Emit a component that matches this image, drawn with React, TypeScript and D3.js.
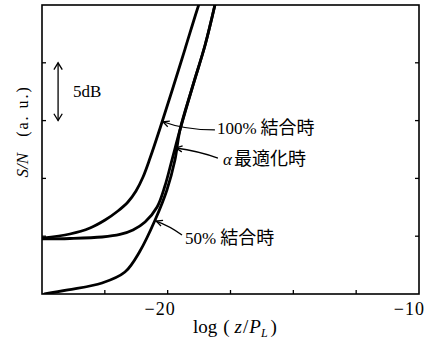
import { useEffect, useRef } from 'react'
import * as d3 from 'd3'

// axes: log(z/P_L) vs S/N in dB (arbitrary origin)
const xDomain = [-25, -10]
const yDomain = [0, 25]
const xTicks = [-22.5, -20, -17.5, -15, -12.5]
const xTickValues = [-20, -10]
const xTickLabels = ['−20', '−10']
const yTicks = [5, 10, 15, 20]

// [log(z/PL), dB]
const coupling100 = [
  [-25, 4.84], [-23.89, 5.19], [-23.09, 5.71], [-22.49, 6.4], [-21.98, 7.18], [-21.58, 7.96],
  [-21.26, 8.91], [-20.98, 10.12], [-20.7, 11.76], [-20.3, 14.36], [-19.83, 17.56], [-19.31, 21.19],
  [-18.83, 24.57], [-18.67, 25.6],
]
const alphaOpt = [
  [-25, 4.76], [-23.89, 4.8], [-22.61, 4.93], [-21.9, 5.15], [-21.38, 5.54], [-20.9, 6.23],
  [-20.42, 7.53], [-20.11, 9.34], [-19.83, 11.59], [-19.51, 14.19], [-18.99, 18.08], [-18.51, 21.54], [-18.12, 25.0],
]
const coupling50 = [
  [-24.9, 0], [-23.97, 0.35], [-22.61, 0.95], [-21.7, 1.9], [-21.1, 3.72], [-20.5, 6.4],
  [-20.03, 9.0], [-19.71, 11.59], [-19.51, 14.19], [-18.99, 18.08], [-18.51, 21.54], [-18.12, 25.0],
]
const seriesList = [coupling100, alphaOpt, coupling50]

// callouts: arrow tip, bend, end of leader, label anchor (data units)
const callouts = [
  { tip: [-20.19, 14.9], ctrl: [-19.31, 14.19], end: [-18.12, 14.19], label: [-18.04, 13.8], pre: '100%', text: '結合時' },
  { tip: [-19.67, 12.63], ctrl: [-18.79, 12.37], end: [-18.0, 11.76], label: [-17.8, 11.2], pre: 'α', text: '最適化時' },
  { tip: [-20.46, 6.31], ctrl: [-19.91, 5.88], end: [-19.43, 5.1], label: [-19.31, 4.3], pre: '50%', text: '結合時' },
]

const SERIF = "'Liberation Serif', 'DejaVu Serif', serif"
const CJK = "'Noto Sans CJK JP', sans-serif"

export default function App() {
  const ref = useRef(null)

  useEffect(() => {
    const svg = d3.select(ref.current)
    svg.selectAll('*').remove()
    const width = 432
    const height = 351
    const margin = { top: 5, right: 13, bottom: 57, left: 42 }

    const x = d3.scaleLinear().domain(xDomain).range([margin.left, width - margin.right])
    const y = d3.scaleLinear().domain(yDomain).range([height - margin.bottom, margin.top])
    const [x0, x1] = x.range()
    const [y0, y1] = y.range()

    const defs = svg.append('defs')
    defs.append('clipPath').attr('id', 'plotClip')
      .append('rect').attr('x', x0).attr('y', y1).attr('width', x1 - x0).attr('height', y0 - y1)

    // frame
    svg.append('rect')
      .attr('x', x0).attr('y', y1).attr('width', x1 - x0).attr('height', y0 - y1)
      .attr('fill', 'none').attr('stroke', '#000').attr('stroke-width', 1.6)

    // inward ticks
    svg.selectAll('line.xtick').data(xTicks).enter().append('line')
      .attr('x1', d => x(d)).attr('x2', d => x(d)).attr('y1', y0).attr('y2', y0 - 4)
      .attr('stroke', '#000').attr('stroke-width', 1.3)
    svg.selectAll('line.ytickL').data(yTicks).enter().append('line')
      .attr('x1', x0).attr('x2', x0 + 4).attr('y1', d => y(d)).attr('y2', d => y(d))
      .attr('stroke', '#000').attr('stroke-width', 1.3)
    svg.selectAll('line.ytickR').data(yTicks).enter().append('line')
      .attr('x1', x1).attr('x2', x1 - 4).attr('y1', d => y(d)).attr('y2', d => y(d))
      .attr('stroke', '#000').attr('stroke-width', 1.3)

    // tick labels
    svg.selectAll('text.xlab').data(xTickValues).enter().append('text')
      .attr('x', d => x(d) + (d === -10 ? 6 : 8)).attr('y', y0 + 21)
      .attr('text-anchor', 'end')
      .attr('font-family', SERIF).attr('font-size', 18).attr('letter-spacing', 1)
      .text((d, i) => xTickLabels[i])

    // x title
    const xt = svg.append('text').attr('x', 193).attr('y', y0 + 39)
      .attr('font-family', SERIF).attr('font-size', 19)
    xt.append('tspan').text('log')
    xt.append('tspan').attr('dx', 6).text('(')
    xt.append('tspan').attr('font-style', 'italic').attr('dx', 5).text('z')
    xt.append('tspan').attr('dx', 1).text('/')
    xt.append('tspan').attr('font-style', 'italic').attr('dx', 1).text('P')
    xt.append('tspan').attr('font-style', 'italic').attr('font-size', 12).attr('dy', 4).text('L')
    xt.append('tspan').attr('dy', -4).attr('dx', 3).text(')')

    // y title
    const yt = svg.append('text').attr('transform', `translate(28,${y(10) - 1}) rotate(-90)`)
      .attr('font-family', SERIF)
    yt.append('tspan').attr('font-style', 'italic').attr('font-size', 17).text('S/N')
    yt.append('tspan').attr('dx', 16).attr('font-size', 16).attr('letter-spacing', 2).text('(a. u.)')

    // curves
    const line = d3.line().x(d => x(d[0])).y(d => y(d[1])).curve(d3.curveCatmullRom.alpha(0.5))
    svg.append('g').attr('clip-path', 'url(#plotClip)')
      .selectAll('path.curve').data(seriesList).enter().append('path')
      .attr('d', d => line(d))
      .attr('fill', 'none').attr('stroke', '#000').attr('stroke-width', 2.8)
      .attr('stroke-linejoin', 'round').attr('stroke-linecap', 'round')

    const arrowHead = (g, tx, ty, fx, fy, len = 7, spread = 0.45) => {
      const a = Math.atan2(fy - ty, fx - tx)
      const p1 = [tx + len * Math.cos(a + spread), ty + len * Math.sin(a + spread)]
      const p2 = [tx + len * Math.cos(a - spread), ty + len * Math.sin(a - spread)]
      g.append('path').attr('d', `M${p1[0]},${p1[1]}L${tx},${ty}L${p2[0]},${p2[1]}`)
        .attr('fill', 'none').attr('stroke', '#000').attr('stroke-width', 1.3)
    }

    // 5dB scale bar
    const bar = svg.append('g')
    const bx = x(-24.36)
    bar.append('line').attr('x1', bx).attr('x2', bx).attr('y1', y(20)).attr('y2', y(15))
      .attr('stroke', '#000').attr('stroke-width', 1.3)
    arrowHead(bar, bx, y(20), bx, y(15), 8, 0.55)
    arrowHead(bar, bx, y(15), bx, y(20), 8, 0.55)
    bar.append('text').attr('x', x(-23.77)).attr('y', y(17.04))
      .attr('font-family', SERIF).attr('font-size', 17).text('5dB')

    // callouts
    const cg = svg.append('g')
    callouts.forEach(c => {
      const [tx, ty] = [x(c.tip[0]), y(c.tip[1])]
      const [cx, cy] = [x(c.ctrl[0]), y(c.ctrl[1])]
      const [ex, ey] = [x(c.end[0]), y(c.end[1])]
      cg.append('path').attr('d', `M${tx},${ty}Q${cx},${cy} ${ex},${ey}`)
        .attr('fill', 'none').attr('stroke', '#000').attr('stroke-width', 1.3)
      arrowHead(cg, tx, ty, cx, cy)
      const t = cg.append('text').attr('x', x(c.label[0])).attr('y', y(c.label[1]))
      t.append('tspan').attr('font-family', SERIF).attr('font-size', 17)
        .attr('font-style', c.pre === 'α' ? 'italic' : 'normal').text(c.pre)
      t.append('tspan').attr('dx', c.pre === 'α' ? 2 : 4).attr('font-family', CJK).attr('font-size', 18).text(c.text)
    })
  }, [])

  return <svg ref={ref} width={432} height={351} viewBox="0 0 432 351"
    style={{ position: 'absolute', left: 0, top: 0, background: '#fff' }} />
}
